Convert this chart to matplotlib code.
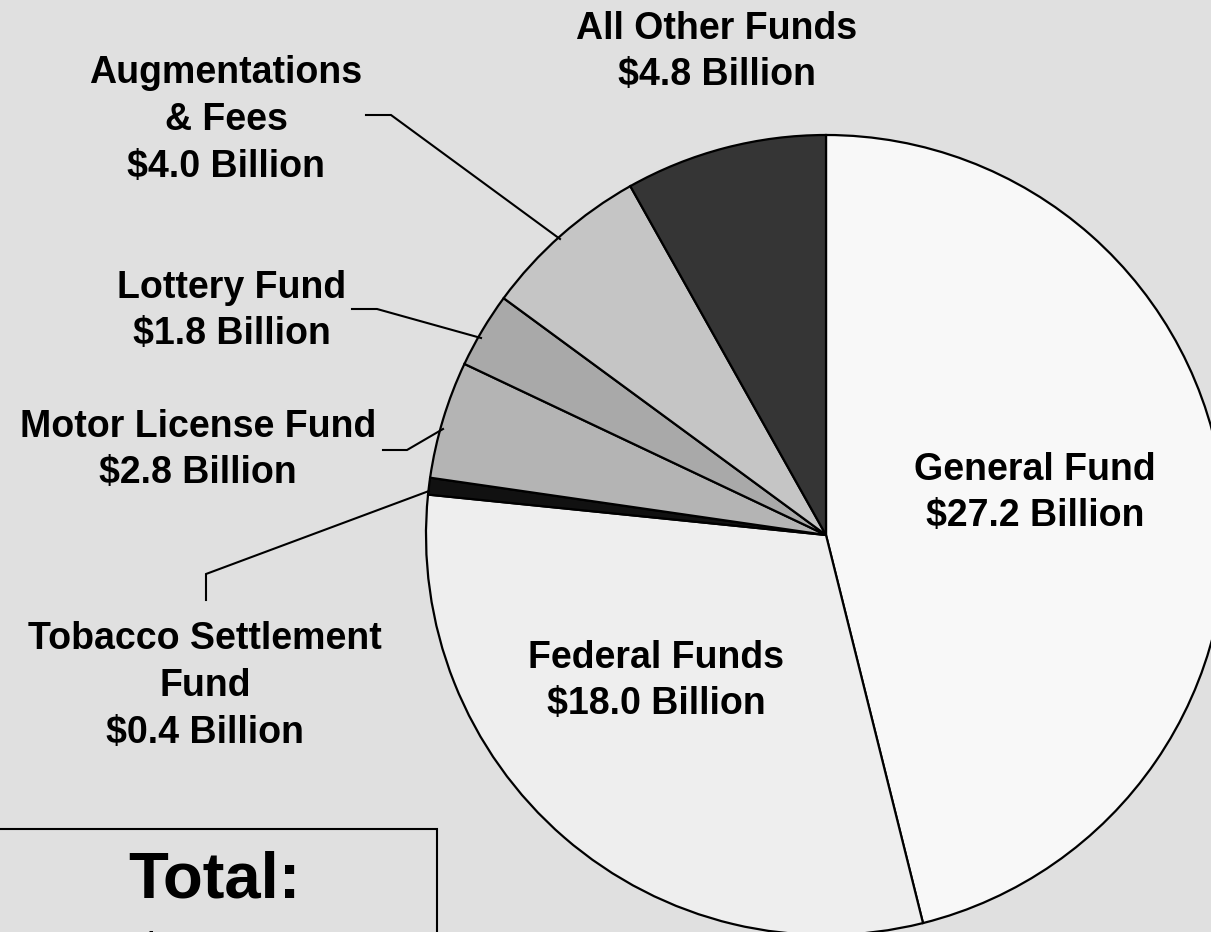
import matplotlib
matplotlib.use("Agg")
import matplotlib.pyplot as plt
from matplotlib.patches import Rectangle

plt.rcParams["font.family"] = ["Liberation Sans", "DejaVu Sans"]

# fund sizes, $ billions (clockwise from 12 o'clock)
funds = ["General Fund", "Federal Funds", "Tobacco Settlement Fund", "Motor License Fund",
         "Lottery Fund", "Augmentations & Fees", "All Other Funds"]
billions = [27.2, 18.0, 0.4, 2.8, 1.8, 4.0, 4.8]
colors = ["#f8f8f8", "#eeeeee", "#111111", "#b4b4b4", "#a9a9a9", "#c5c5c5", "#353535"]
label_text = ["General Fund\n$27.2 Billion", "Federal Funds\n$18.0 Billion",
              "Tobacco Settlement\nFund\n$0.4 Billion", "Motor License Fund\n$2.8 Billion",
              "Lottery Fund\n$1.8 Billion", "Augmentations\n& Fees\n$4.0 Billion",
              "All Other Funds\n$4.8 Billion"]

W, H = 1211, 932
BG = "#e0e0e0"

fig = plt.figure(figsize=(W / 100, H / 100), dpi=100, facecolor=BG)
ax = fig.add_axes([0, 0, 1, 1])
ax.set_facecolor(BG)


def py(y):
    # pixel row -> data y (origin at bottom)
    return H - y


ax.pie(billions, colors=colors, startangle=90, counterclock=False,
       center=(826, py(535)), radius=400,
       wedgeprops={"edgecolor": "black", "linewidth": 1.6})
ax.set_xlim(0, W)
ax.set_ylim(0, H)
ax.set_aspect("equal")
ax.axis("off")

txt = dict(fontsize=27, fontweight="bold", ha="center", va="center", linespacing=1.38)
# label anchor points (centre of text block, pixels)
label_pos = [(1035, 493), (656, 681), (205, 686), (198, 450), (232, 311), (226, 120), (717, 52)]
for s, (x, y) in zip(label_text, label_pos):
    ax.text(x, py(y), s, **txt)

# leader lines (pixels)
leaders = [
    [(366, 115), (391, 115), (560, 239)],
    [(352, 309), (377, 309), (481, 338)],
    [(383, 450), (407, 450), (443, 429)],
    [(206, 600), (206, 574), (429, 491)],
]
for pts in leaders:
    ax.plot([p[0] for p in pts], [py(p[1]) for p in pts], color="black", lw=1.5,
            solid_joinstyle="miter")

# total box
ax.add_patch(Rectangle((-5, py(960)), 442, 960 - 829, facecolor="none",
                       edgecolor="black", lw=1.5))
ax.text(214, py(880), "Total:", fontsize=47, fontweight="bold", ha="center", va="center")
ax.text(214, py(962), "$59.0", fontsize=47, fontweight="bold", ha="center", va="center")

fig.savefig("out.png", dpi=100, facecolor=BG)
